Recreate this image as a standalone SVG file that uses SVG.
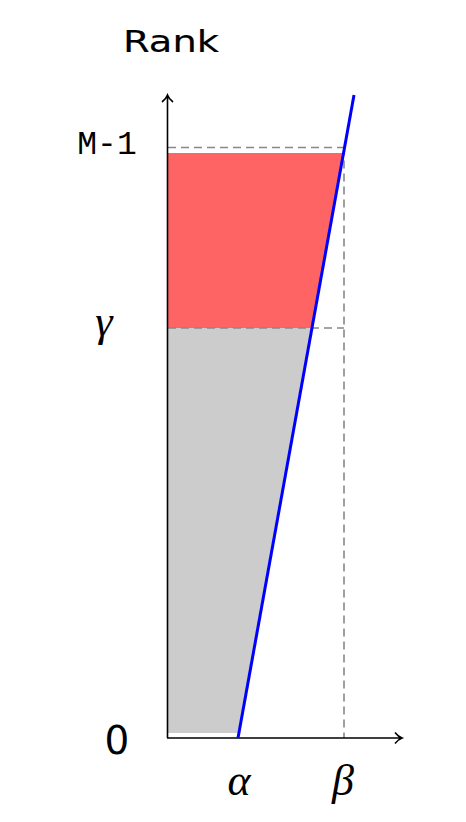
<svg xmlns="http://www.w3.org/2000/svg" width="466" height="822" viewBox="0 0 466 822">
<style>
.axis{stroke:#000;stroke-width:1.6;fill:none}
.dash{stroke:#888;stroke-width:1.6;stroke-dasharray:8,5;fill:none}
.lbl{font-family:"DejaVu Sans",sans-serif;fill:#000}
.math{font-family:"Liberation Serif","DejaVu Serif",serif;font-style:italic;fill:#000}
</style>
<rect width="466" height="822" fill="#fff"/>
<g id="regions">
<polygon id="red" points="168,153 343.5,153 312,328 168,328" fill="#ff6464"/>
<polygon id="gray" points="168,328 312,328 239,733 168,733" fill="#cccccc"/>
</g>
<g id="guides">
<path class="dash" d="M168,147.5 H344 M168,328 H344 M344,147.5 V738"/>
</g>
<g id="connectors">
<path class="axis" d="M167.5,738 V96 M162,102 Q166,99 167.5,95 Q169,99 173,102"/>
<path class="axis" d="M167,738 H401 M395,732.5 Q398,736.5 402,738 Q398,739.5 395,743.5"/>
<line id="blue" x1="238" y1="738" x2="354" y2="95" stroke="#0000ff" stroke-width="3"/>
</g>
<g id="labels">
<text class="lbl" x="123" y="52" font-size="31" stroke="#000" stroke-width="0.15" textLength="96" lengthAdjust="spacingAndGlyphs">Rank</text>
<text x="107" y="154" font-family="Liberation Mono,monospace" font-size="33" text-anchor="middle">M-1</text>
<text class="math" x="104" y="336" font-size="44" text-anchor="middle">γ</text>
<text class="lbl" x="117" y="754" font-size="39" text-anchor="middle">0</text>
<text class="math" x="239" y="795" font-size="44" text-anchor="middle">α</text>
<text class="math" x="343" y="795" font-size="44" text-anchor="middle">β</text>
</g>
</svg>
